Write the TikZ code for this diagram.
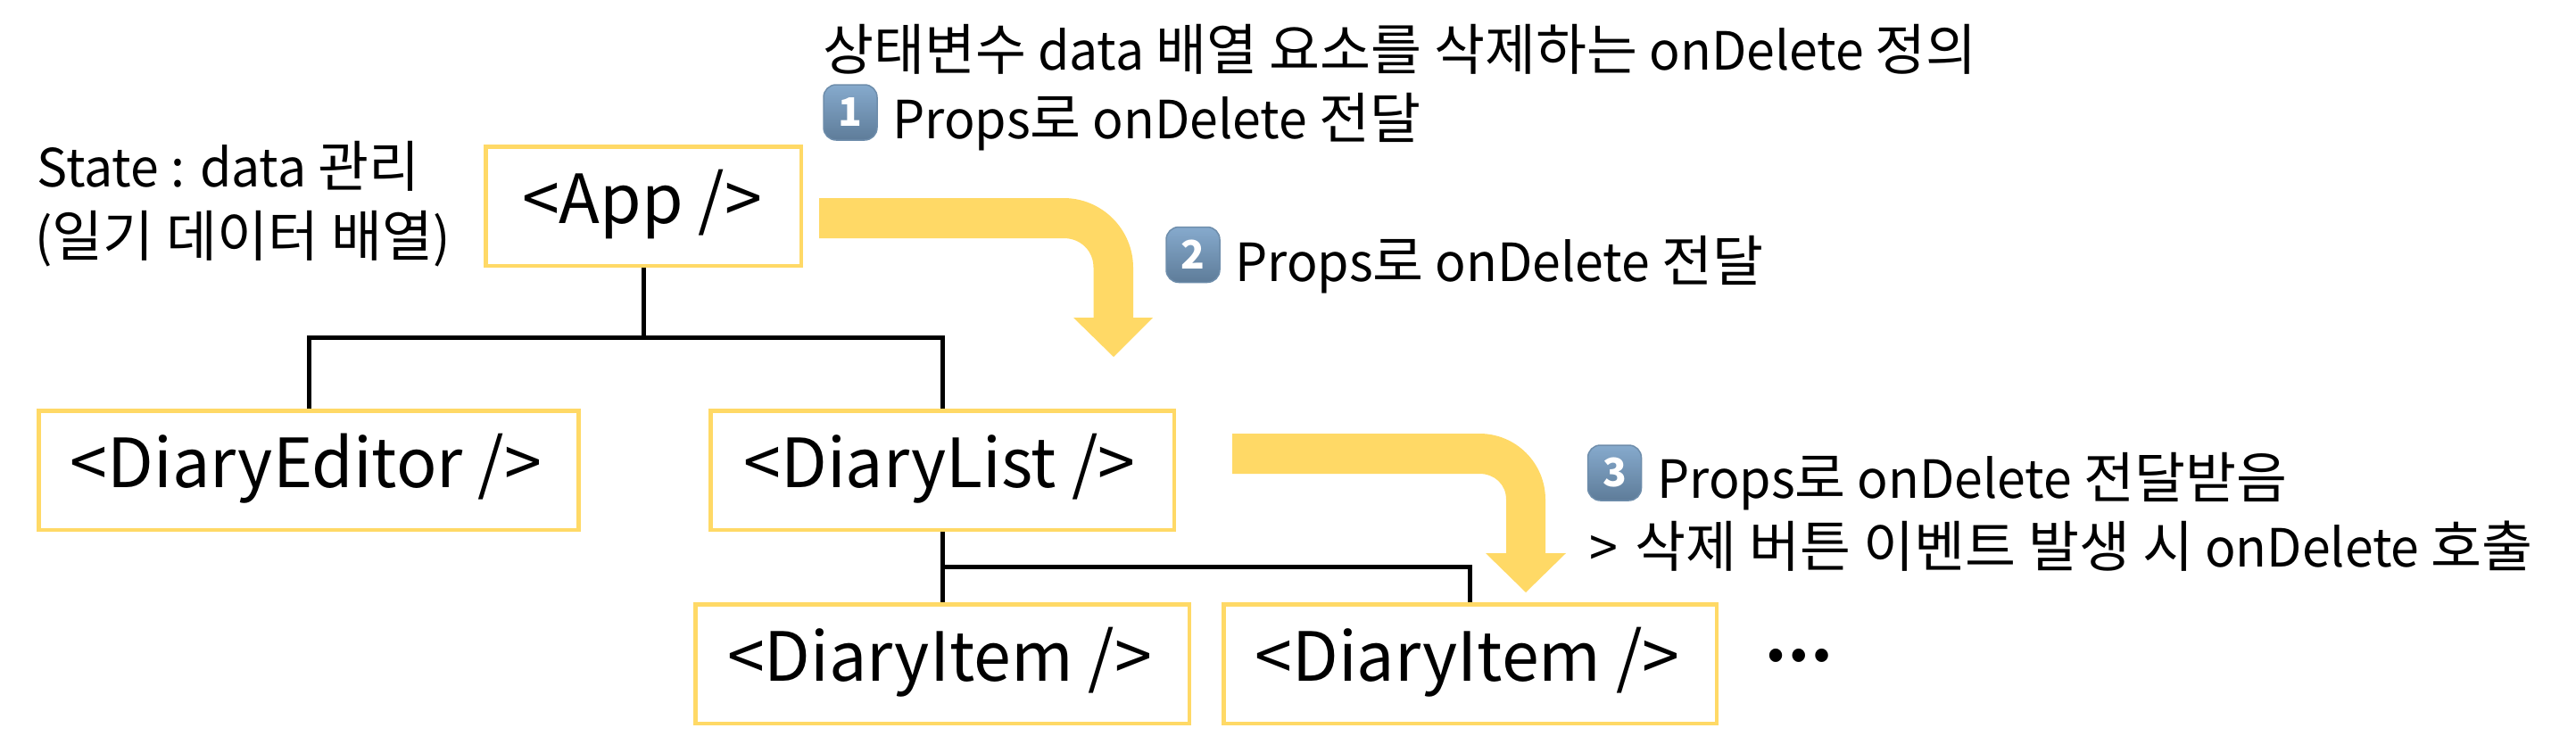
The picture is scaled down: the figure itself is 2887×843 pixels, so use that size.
\documentclass[tikz,border=0pt]{standalone}
\usepackage{fontspec}
\setmainfont{Noto Sans CJK KR}
\newfontfamily\latnsmall[FakeStretch=0.97]{Noto Sans CJK KR}
\newfontfamily\latnbig[FakeStretch=0.99]{Noto Sans CJK KR}
\newfontfamily\korfont[Scale=1.05]{Noto Sans CJK KR}
\newcommand{\kr}[1]{{\korfont #1}}
\usetikzlibrary{shadings}
\definecolor{boxgold}{HTML}{FFD966}
\definecolor{captop}{HTML}{86AACD}
\definecolor{capbot}{HTML}{5E7C99}
\definecolor{capedge}{HTML}{6E8DAB}
\newcommand{\bigfont}{\latnbig\fontsize{76}{90}\selectfont}
\newcommand{\smallfont}{\latnsmall\fontsize{59}{70}\selectfont}
\tikzset{
  x=1pt,y=-1pt,
  comp/.style={draw=boxgold,line width=4.5pt,fill=white,inner sep=0pt,minimum height=133.5pt,
    text height=50pt,text depth=12pt,font=\bigfont,text=black,align=center},
  wire/.style={draw=black,line width=5pt,line cap=butt,line join=miter},
  note/.style={anchor=base west,inner sep=0pt,font=\smallfont,text=black},
  bendarrow/.style={fill=boxgold,draw=none},
  keycap/.style={rounded corners=14pt,top color=captop,bottom color=capbot,draw=capedge,line width=1.5pt,
    minimum width=60pt,minimum height=62pt,inner sep=0pt,text=white,font=\fontsize{44}{44}\selectfont\bfseries},
}
\begin{document}
\begin{tikzpicture}
\useasboundingbox (0,0) rectangle (2887,843);
% component boxes
\node[comp,minimum width=353.5pt] (app) at (721,231) {<App />\kern3pt};
\node[comp,minimum width=605pt] (editor) at (346,527) {<DiaryEditor />\kern6pt};
\node[comp,minimum width=519.5pt] (list) at (1056,527) {<DiaryList />\kern6pt};
\node[comp,minimum width=553.5pt] (item1) at (1056,744) {<DiaryItem />\kern6pt};
\node[comp,minimum width=552.5pt] (item2) at (1647.5,744) {<DiaryItem />\kern6pt};
% tree connectors
\coordinate (busa) at (721,378.5);
\coordinate (busb) at (1056,635);
\draw[wire] (app.south) -- (busa);
\draw[wire] (editor.north) |- (busa) -| (list.north);
\draw[wire] (list.south) -- (item1.north);
\draw[wire] (busb) -| (item2.north);
% block arrows
\fill[bendarrow] (918,222) -- (1192,222) .. controls (1235,222) and (1270,257) .. (1270,300)
  -- (1270,356) -- (1292,356) -- (1248,400) -- (1203,356) -- (1225.5,356) -- (1225.5,300)
  .. controls (1225.5,281) and (1211,267) .. (1192,267) -- (918,267) -- cycle;
\fill[bendarrow] (1381,486) -- (1658,486) .. controls (1699,486) and (1732,519) .. (1732,560)
  -- (1732,620) -- (1755,620) -- (1710,664) -- (1665,620) -- (1688,620) -- (1688,560)
  .. controls (1688,543) and (1675,531) .. (1658,531) -- (1381,531) -- cycle;
% texts
\node[note] (state1) at (41.5,209) {State : data \kr{관리}};
\node[note] (state2) at (39,287) {(\kr{일기 데이터 배열})};
\node[note] (top) at (922,78) {\kr{상태변수} data \kr{배열 요소를 삭제하는} onDelete \kr{정의}};
\node[keycap] (cap1) at (953,126) {1};
\node[note] (t1) at (1000,155) {Props\kr{로} onDelete \kr{전달}};
\node[keycap] (cap2) at (1337,285.5) {2};
\node[note] (t2) at (1384,315) {Props\kr{로} onDelete \kr{전달}};
\node[keycap] (cap3) at (1809.5,530) {3};
\node[note] (t3) at (1857,558) {Props\kr{로} onDelete \kr{전달받음}};
\node[note] (t4) at (1781,635) {>\kern7pt{} \kr{삭제 버튼 이벤트 발생 시} onDelete \kr{호출}};
\node[anchor=base west,inner sep=0pt,font=\fontsize{68}{70}\selectfont\bfseries] (dots) at (1977,741) {…};
\end{tikzpicture}
\end{document}
